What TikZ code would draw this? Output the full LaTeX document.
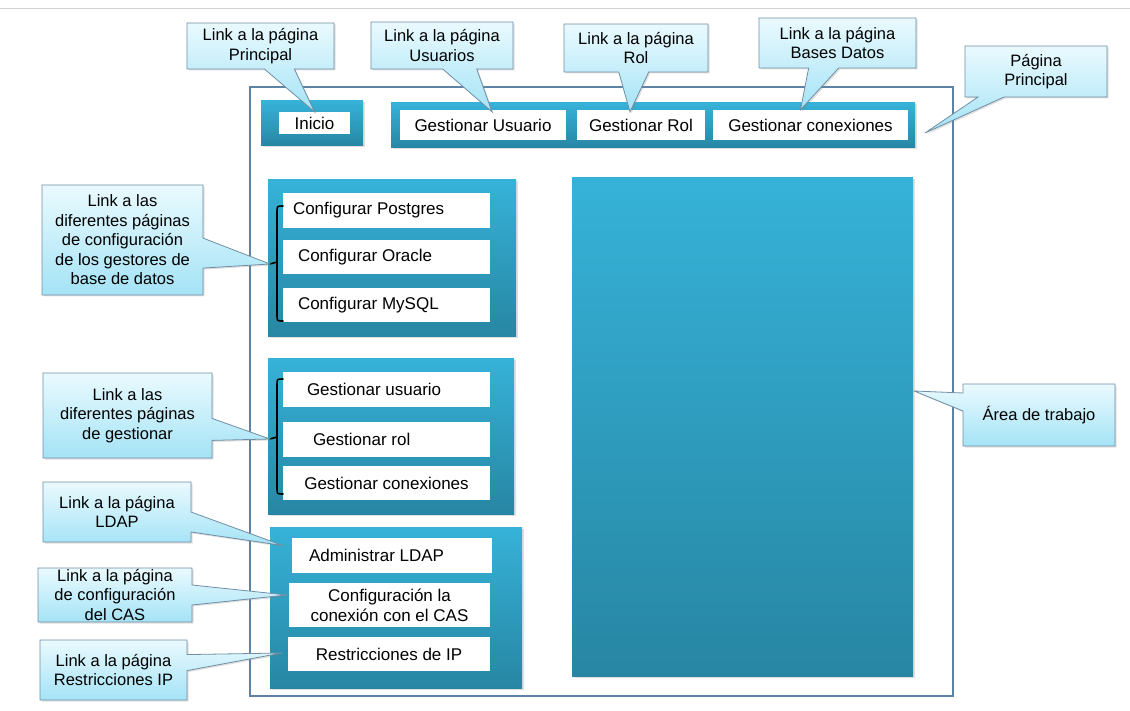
\documentclass[tikz,border=0pt]{standalone}
\usepackage{fontspec}
\setmainfont{Liberation Sans}
\usetikzlibrary{shapes.callouts,shadows,calc}

\definecolor{frameblue}{RGB}{93,130,163}
\definecolor{boxtop}{RGB}{54,178,216}
\definecolor{boxbot}{RGB}{39,134,163}
\definecolor{calltop}{RGB}{234,250,254}
\definecolor{callbot}{RGB}{164,227,246}
\definecolor{callline}{RGB}{112,142,165}

\begin{document}
\begin{tikzpicture}[x=1pt,y=1pt,yscale=-1,xscale=1,
  gbox/.style 2 args={rectangle, top color=boxtop, bottom color=boxbot, minimum width=#1pt, minimum height=#2pt, inner sep=0pt, drop shadow={opacity=0.25,shadow xshift=1.5pt,shadow yshift=-1.5pt}},
  item/.style 2 args={rectangle, fill=white, minimum width=#1pt, minimum height=#2pt, inner sep=0pt, align=center, font=\fontsize{17}{20}\selectfont},
  lbl/.style={anchor=west, inner sep=0pt, font=\fontsize{17}{20}\selectfont},
  cbox/.style 2 args={rectangle callout, draw=callline, line width=0.8pt, top color=calltop, bottom color=callbot, minimum width=#1pt, minimum height=#2pt, inner sep=0pt, align=center, font=\fontsize{16.5}{19.5}\selectfont, callout pointer width=30pt, drop shadow={opacity=0.25,shadow xshift=1.5pt,shadow yshift=-1.5pt}},
  brk/.style={line width=1.6pt, line cap=round}]
\useasboundingbox (0,0) rectangle (1130,711);

%Straight Lines
\draw [color=black!18, line width=1pt] (0,9) -- (1130,9) ;

%Shape: Rectangle
\node [draw=frameblue, line width=2pt, minimum width=703pt, minimum height=609pt, inner sep=0pt] (page) at (601.5,391.5) {};

%Shape: Rectangle
\node [gbox={102}{45}] (ginicio) at (312,123.5) {};
\node [gbox={524}{45}] (gtop) at (653,125.5) {};
\node [gbox={248}{157}] (gconf) at (392,258.5) {};
\node [gbox={246}{156}] (ggest) at (391,436) {};
\node [gbox={252}{161}] (gadmin) at (396,607.5) {};
\node [gbox={341}{498}] (area) at (742.5,427) {};

% Text Node
\node [item={71}{22}] (inicio) at (314.5,123) {Inicio};
\node [item={166}{30}] (gusuario) at (483,125) {Gestionar Usuario};
\node [item={128}{30}] (grol) at (641,125) {Gestionar Rol};
\node [item={195}{30}] (gconex) at (810.5,125) {Gestionar conexiones};

% Text Node
\node [item={207}{35}] (pg) at (386.5,210.5) {};
\node [lbl] (tpg) at ($(pg.west)+(10,0)$) {Configurar Postgres};
\node [item={207}{34}] (ora) at (386.5,257) {};
\node [lbl] (tora) at ($(ora.west)+(15,0)$) {Configurar Oracle};
\node [item={207}{34}] (my) at (386.5,305) {};
\node [lbl] (tmy) at ($(my.west)+(15,0)$) {Configurar MySQL};

% Text Node
\node [item={207}{35}] (susr) at (386.5,389.5) {};
\node [lbl] (tsusr) at ($(susr.west)+(24,0)$) {Gestionar usuario};
\node [item={207}{35}] (srol) at (386.5,439.5) {};
\node [lbl] (tsrol) at ($(srol.west)+(30,0)$) {Gestionar rol};
\node [item={207}{34}] (scon) at (386.5,483) {Gestionar conexiones};

% Text Node
\node [item={200}{35}] (ldap) at (392,555.5) {};
\node [lbl] (tldap) at ($(ldap.west)+(17,0)$) {Administrar LDAP};
\node [item={201}{44}] (cas) at (389.5,605) {Configuración la\\conexión con el CAS};
\node [item={202}{34}] (ip) at (389,654) {Restricciones de IP};

%Curve Lines
\draw [brk] (283,206) .. controls (277,206) .. (277,212) -- (277,315) .. controls (277,321) .. (283,321) ;
\draw [brk] (277,262) -- (270,264) coordinate (bconf) ;
\draw [brk] (283,379) .. controls (277,379) .. (277,385) -- (277,488) .. controls (277,494) .. (283,494) ;
\draw [brk] (277,437) -- (270,439) coordinate (bgest) ;

%Straight Lines
\coordinate (ptip) at (925,133) ;

% Text Node
\node [cbox={147}{46}, callout absolute pointer={(inicio.north)}] (cprin) at (260.5,46) {Link a la página\\Principal};
\node [cbox={142}{47}, callout pointer width=34pt, callout absolute pointer={($(gusuario.north)+(9,2)$)}] (cusu) at (442,45.5) {Link a la página\\Usuarios};
\node [cbox={144}{48}, callout absolute pointer={($(grol.north)+(-11,2)$)}] (crol) at (636,48) {Link a la página\\Rol};
\node [cbox={157}{50}, callout absolute pointer={($(gconex.north)+(-10,0)$)}] (cbd) at (837.5,43) {Link a la página\\Bases Datos};
\node [cbox={142}{51}, callout pointer width=26pt, callout absolute pointer={(ptip)}] (cpag) at (1036,71.5) {Página\\Principal};
\node [cbox={161}{110}, callout absolute pointer={(bconf)}] (cconf) at (122.5,240) {Link a las\\diferentes páginas\\de configuración\\de los gestores de\\base de datos};
\node [cbox={169}{85}, callout pointer width=22pt, callout absolute pointer={(bgest)}] (cgest) at (127.5,415.5) {Link a las\\diferentes páginas\\de gestionar};
\node [cbox={148}{60}, callout pointer width=20pt, callout absolute pointer={($(ldap.west)+(-9,-10)$)}] (cldap) at (117,512) {Link a la página\\LDAP};
\node [cbox={154}{54}, callout pointer width=20pt, callout absolute pointer={($(cas.west)+(-2,-10)$)}] (ccas) at (115,595) {Link a la página\\de configuración\\del CAS};
\node [cbox={147}{60}, callout pointer width=16pt, callout absolute pointer={($(ip.west)+(-6,-1)$)}] (cip) at (113.5,670) {Link a la página\\Restricciones IP};
\node [cbox={152}{62}, callout pointer width=18pt, callout absolute pointer={($(area.east)+(1,-36)$)}] (carea) at (1039,415) {Área de trabajo};

\end{tikzpicture}
\end{document}
